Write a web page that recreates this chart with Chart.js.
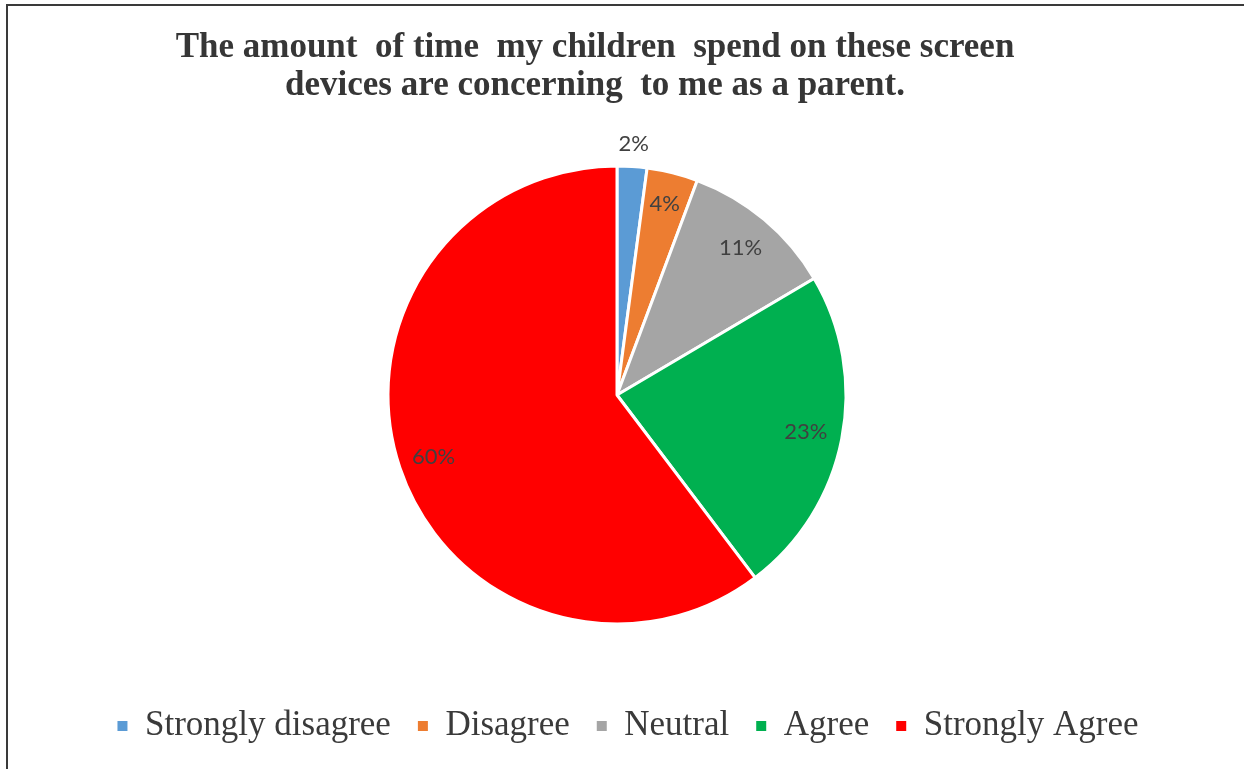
<!DOCTYPE html>
<html>
<head>
<meta charset="utf-8">
<script src="https://cdn.jsdelivr.net/npm/chart.js@4/dist/chart.umd.min.js"></script>
<style>
  html, body { margin: 0; padding: 0; background: #ffffff; overflow: hidden; }
  #wrap { position: relative; width: 1244px; height: 769px; }
  #frame { position: absolute; left: 6px; top: 4px; right: -10px; bottom: -10px;
           border-top: 2px solid #3a3a3a; border-left: 2px solid #3a3a3a; pointer-events: none; }
</style>
</head>
<body>
<div id="wrap">
  <canvas id="c"></canvas>
  <div id="frame"></div>
</div>
<script>
// ---- data ----
const titleLines = ["The amount  of time  my children  spend on these screen",
                    "devices are concerning  to me as a parent."];
const categories = ["Strongly disagree", "Disagree", "Neutral", "Agree", "Strongly Agree"];
const values = [2.1, 3.6, 10.8, 23.2, 60.3];
const colors = ["#5B9BD5", "#ED7D31", "#A5A5A5", "#00B050", "#FF0000"];

// label placement along radius (fraction of outer radius) per slice
const labelRadius = [1.10, 0.86, 0.84, 0.84, 0.845];

const shiftPlugin = {
  id: 'shiftBoxes',
  afterLayout(chart, args, opts) {
    if (chart.titleBlock) { chart.titleBlock.left += opts.title; chart.titleBlock.right += opts.title; }
    if (chart.legend) { chart.legend.left += opts.legend; chart.legend.right += opts.legend; }
  }
};

const pctLabels = {
  id: 'pctLabels',
  afterDatasetsDraw(chart, args, opts) {
    const ctx = chart.ctx;
    const meta = chart.getDatasetMeta(0);
    const data = chart.data.datasets[0].data;
    const total = data.reduce((a, b) => a + b, 0);
    ctx.save();
    ctx.font = opts.font;
    ctx.fillStyle = opts.color;
    ctx.textAlign = 'center';
    ctx.textBaseline = 'middle';
    meta.data.forEach((arc, i) => {
      const p = arc.getProps(['x', 'y', 'startAngle', 'endAngle', 'outerRadius'], true);
      const mid = (p.startAngle + p.endAngle) / 2;
      const r = p.outerRadius * opts.radius[i];
      const txt = Math.round(data[i] / total * 100) + '%';
      ctx.fillText(txt, p.x + Math.cos(mid) * r, p.y + Math.sin(mid) * r);
    });
    ctx.restore();
  }
};

new Chart(document.getElementById('c'), {
  type: 'pie',
  data: {
    labels: categories,
    datasets: [{
      data: values,
      backgroundColor: colors,
      borderColor: '#ffffff',
      borderWidth: 3
    }]
  },
  plugins: [shiftPlugin, pctLabels],
  options: {
    responsive: true,
    maintainAspectRatio: false,
    animation: false,
    devicePixelRatio: 1,
    radius: 229,
    layout: { padding: { left: 0, right: 10, top: 0, bottom: 15.5 } },
    plugins: {
      tooltip: { enabled: false },
      shiftBoxes: { title: -22, legend: 11 },
      pctLabels: { font: '22px Lato', color: '#404040', radius: labelRadius },
      title: {
        display: true,
        text: titleLines,
        color: '#363636',
        font: { family: "'Liberation Serif', 'Times New Roman', serif", size: 35, weight: 'bold', lineHeight: 1.0857 },
        padding: { top: 29, bottom: 3.5 }
      },
      legend: {
        position: 'bottom',
        labels: {
          color: '#3a3a3a',
          boxWidth: 10,
          boxHeight: 10,
          padding: 27,
          font: { family: "'Liberation Serif', 'Times New Roman', serif", size: 35 },
          generateLabels(chart) {
            const items = Chart.overrides.pie.plugins.legend.labels.generateLabels(chart);
            items.forEach(it => { it.lineWidth = 0; it.strokeStyle = it.fillStyle; });
            return items;
          }
        }
      }
    }
  }
});
</script>
</body>
</html>
